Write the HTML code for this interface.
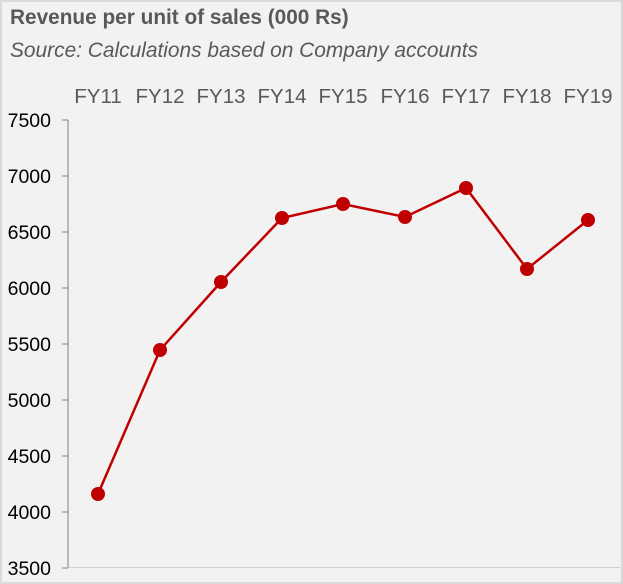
<!DOCTYPE html>
<html><head><style>
html,body{margin:0;padding:0;}
body{width:623px;height:584px;background:#fff;}
svg{display:block;}
</style></head><body>
<svg width="623" height="584" xmlns="http://www.w3.org/2000/svg" font-family="Liberation Sans, Arial, sans-serif">
<rect x="1" y="1" width="621" height="582" fill="#f2f2f2" stroke="#d9d9d9" stroke-width="2"/>
<text x="10" y="24" font-size="20.8" font-weight="bold" fill="#595959">Revenue per unit of sales (000 Rs)</text>
<text x="10" y="57" font-size="20.9" font-style="italic" fill="#595959">Source: Calculations based on Company accounts</text>
<g font-size="20.5" fill="#595959" text-anchor="middle">
<text x="98" y="103">FY11</text><text x="160" y="103">FY12</text><text x="221" y="103">FY13</text>
<text x="282" y="103">FY14</text><text x="343" y="103">FY15</text><text x="405" y="103">FY16</text>
<text x="466" y="103">FY17</text><text x="527" y="103">FY18</text><text x="588" y="103">FY19</text>
</g>
<line x1="68" y1="120" x2="68" y2="568" stroke="#808080" stroke-width="1"/>
<line x1="68" y1="567.5" x2="620" y2="567.5" stroke="#d0d0d0" stroke-width="1"/>
<g stroke="#808080" stroke-width="1">
<line x1="62" y1="120" x2="68" y2="120"/><line x1="62" y1="176" x2="68" y2="176"/>
<line x1="62" y1="232" x2="68" y2="232"/><line x1="62" y1="288" x2="68" y2="288"/>
<line x1="62" y1="344" x2="68" y2="344"/><line x1="62" y1="400" x2="68" y2="400"/>
<line x1="62" y1="456" x2="68" y2="456"/><line x1="62" y1="512" x2="68" y2="512"/>
<line x1="62" y1="568" x2="68" y2="568"/>
</g>
<g font-size="19.5" fill="#000" text-anchor="end">
<text x="51" y="127">7500</text><text x="51" y="183">7000</text><text x="51" y="239">6500</text>
<text x="51" y="295">6000</text><text x="51" y="351">5500</text><text x="51" y="407">5000</text>
<text x="51" y="463">4500</text><text x="51" y="519">4000</text><text x="51" y="575">3500</text>
</g>
<polyline fill="none" stroke="#c00000" stroke-width="2.5" points="98,494 160,350 221,282 282,218 343,204 405,217 466,188 527,269 588,220"/>
<g fill="#c00000">
<circle cx="98" cy="494" r="7"/><circle cx="160" cy="350" r="7"/><circle cx="221" cy="282" r="7"/>
<circle cx="282" cy="218" r="7"/><circle cx="343" cy="204" r="7"/><circle cx="405" cy="217" r="7"/>
<circle cx="466" cy="188" r="7"/><circle cx="527" cy="269" r="7"/><circle cx="588" cy="220" r="7"/>
</g>
</svg>
</body></html>
